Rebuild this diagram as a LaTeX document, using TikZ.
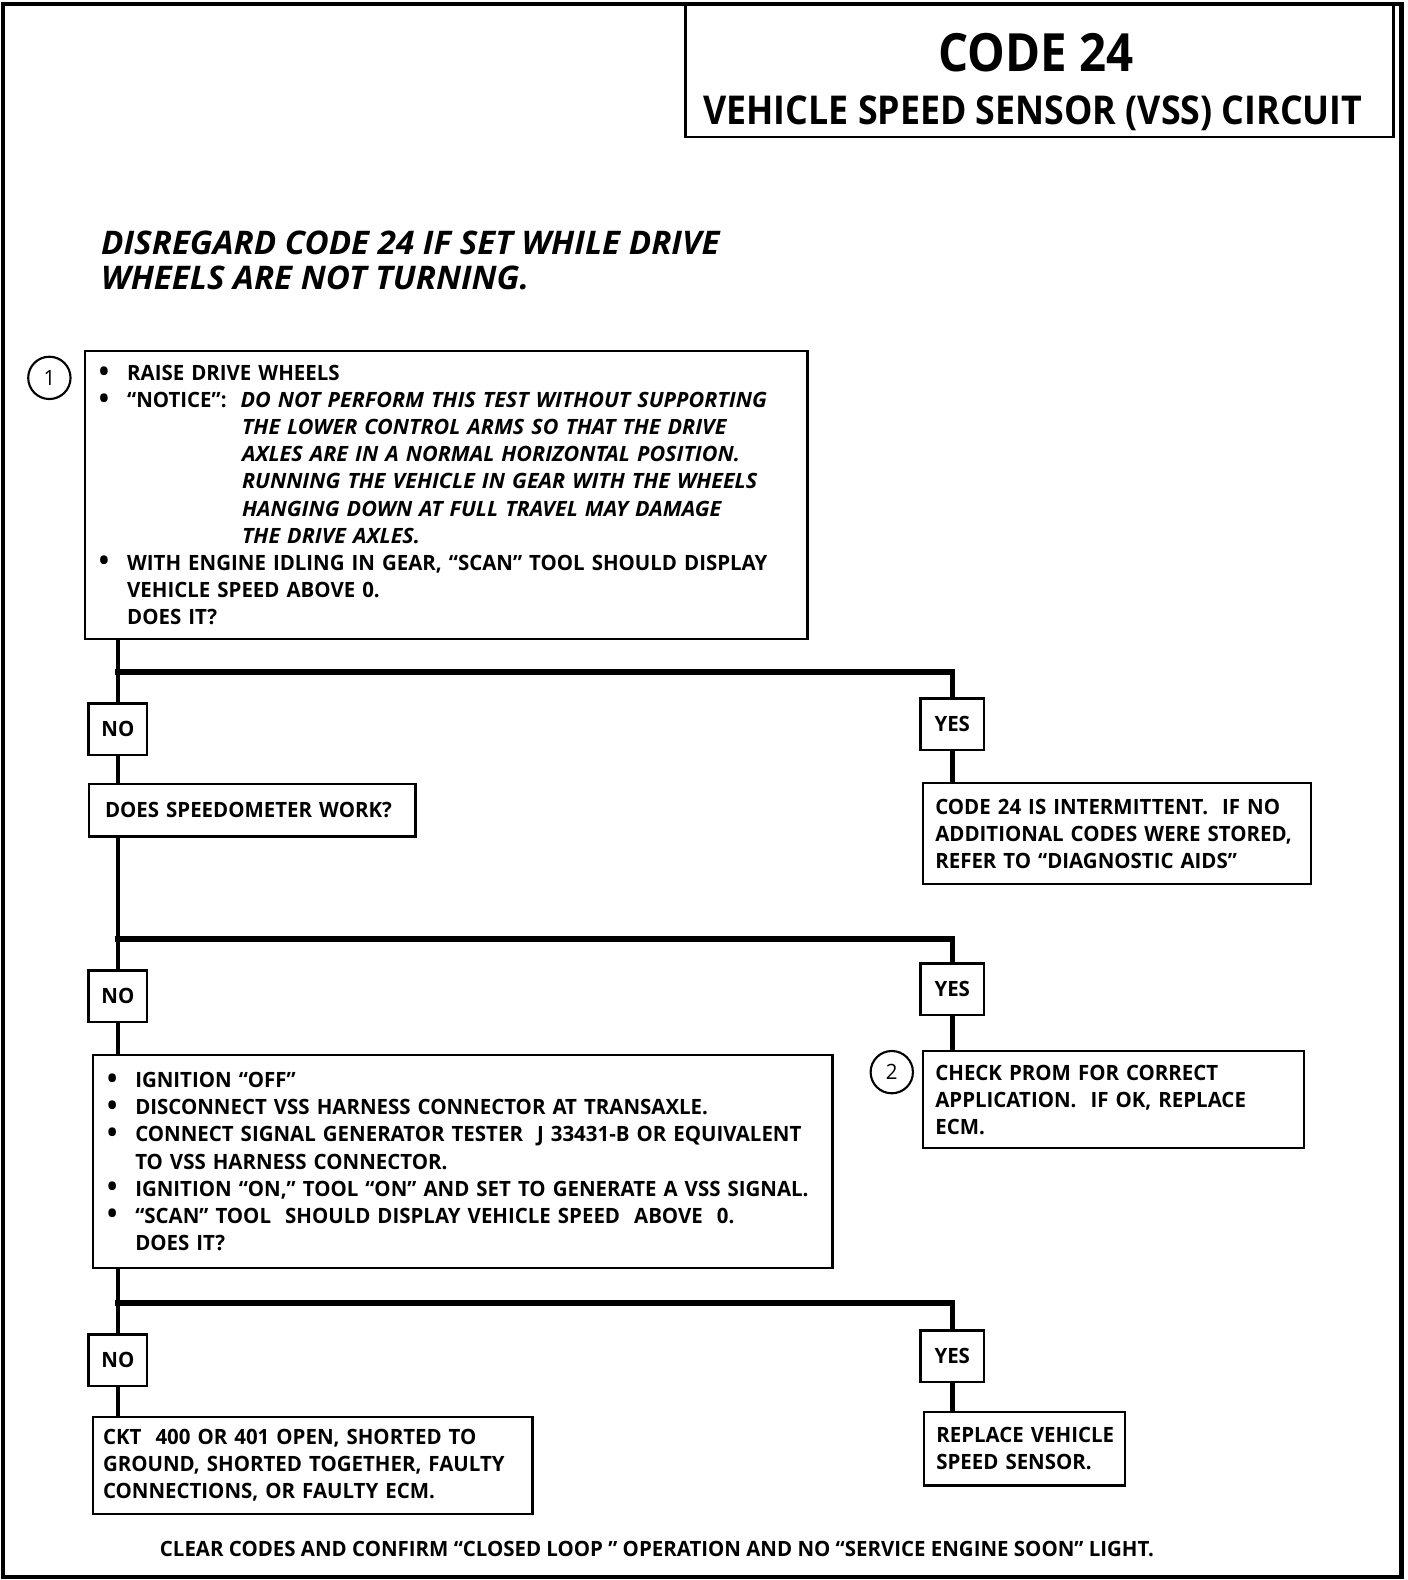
\documentclass[tikz,border=0pt]{standalone}
\usepackage{fontspec}
\setmainfont{Open Sans}[
  UprightFeatures={FakeStretch=0.97}, BoldFeatures={FakeStretch=0.97},
  ItalicFeatures={FakeStretch=1.02}, BoldItalicFeatures={FakeStretch=1.02}]
\newfontfamily\headfont{Open Sans}[FakeStretch=0.9]
\hyphenpenalty=10000
\newdimen\pxu \pxu=0.020158cm
\newcommand\itm{\makebox[25\pxu][l]{\hspace*{-3\pxu}\raisebox{-0.4pt}{\fontsize{16}{10}\selectfont\textbullet}}}
\newcommand\ind{\hspace*{25\pxu}}
\newcommand\notind{\hspace*{139\pxu}}

\tikzset{
  bodytext/.style={font=\fontsize{12}{15.4}\selectfont\bfseries},
  panel/.style n args={3}{draw, line width=1.4pt, anchor=north west, align=left,
    inner ysep=0pt, inner xsep={#3*\pxu}, text width={(#1-2*#3)*\pxu},
    minimum height={#2*\pxu}, bodytext},
  answer/.style={draw, line width=1.4pt, anchor=north, inner sep=0pt,
    minimum width={#1*\pxu}, minimum height={51*\pxu}, bodytext},
  trunk/.style={line width=3.6pt, line cap=rect},
  stem/.style={line width=2.6pt},
  stepnum/.style={draw, circle, line width=1.2pt, minimum size={42*\pxu},
    inner sep=0pt, font=\fontsize{12}{14}\selectfont},
}

\begin{document}
\begin{tikzpicture}[x=0.020158cm, y=-0.020158cm]
\useasboundingbox (0,0) rectangle (1397,1568);

% ---- marc i titol ----
\draw[line width=2.6pt] (3,4) rectangle (1391,1565);
\draw[line width=1.6pt] (680,4) rectangle (1383,136);
\node[font=\headfont\fontsize{30}{33}\selectfont\bfseries] (title) at (1028,52) {CODE 24};
\node[font=\headfont\fontsize{22.6}{26}\selectfont\bfseries] (subtitle) at (1025,112)
    {VEHICLE SPEED SENSOR (VSS) CIRCUIT};
\node[anchor=north west, align=left, inner sep=0pt,
    font=\fontsize{18.5}{20.1}\selectfont\bfseries\itshape] (warn) at (100,229)
    {DISREGARD CODE 24 IF SET WHILE DRIVE\\WHEELS ARE NOT TURNING.};

% ---- pas 1 ----
\node[panel={717}{286}{17}] (q1) at (83,347) {%
    \itm RAISE DRIVE WHEELS\\
    \itm ``NOTICE'':\ \ {\itshape DO NOT PERFORM THIS TEST WITHOUT SUPPORTING}\\
    \notind{\itshape THE LOWER CONTROL ARMS SO THAT THE DRIVE}\\
    \notind{\itshape AXLES ARE IN A NORMAL HORIZONTAL POSITION.}\\
    \notind{\itshape RUNNING THE VEHICLE IN GEAR WITH THE WHEELS}\\
    \notind{\itshape HANGING DOWN AT FULL TRAVEL MAY DAMAGE}\\
    \notind{\itshape THE DRIVE AXLES.}\\
    \itm WITH ENGINE IDLING IN GEAR, ``SCAN'' TOOL SHOULD DISPLAY\\
    \ind VEHICLE SPEED ABOVE 0.\\
    \ind DOES IT?};
\node[stepnum] (n1) at (49,375) {1};
\node[answer=58] (no1) at (117,697) {NO};
\node[answer=63] (yes1) at (945,692) {YES};
\coordinate (bar1) at (0,667);
\draw[stem] (q1.south -| no1.north) -- (no1.north);
\draw[trunk] (no1.north |- bar1) -- (yes1.north |- bar1);
\draw[stem] (yes1.north |- bar1) -- (yes1.north);

% ---- velocimetre ----
\node[panel={324}{52}{16}] (spd) at (87,777) {DOES SPEEDOMETER WORK?};
\node[panel={385}{100}{12}] (res1) at (915,776)
    {CODE 24 IS INTERMITTENT.\ \ IF NO\\ADDITIONAL CODES WERE STORED,\\REFER TO ``DIAGNOSTIC AIDS''};
\draw[stem] (no1.south) -- (no1.south |- spd.north);
\draw[stem] (yes1.south) -- (yes1.south |- res1.north);
\node[answer=58] (no2) at (117,962) {NO};
\node[answer=63] (yes2) at (945,955) {YES};
\coordinate (bar2) at (0,932);
\draw[stem] (spd.south -| no2.north) -- (no2.north);
\draw[trunk] (no2.north |- bar2) -- (yes2.north |- bar2);
\draw[stem] (yes2.north |- bar2) -- (yes2.north);

% ---- prova amb generador ----
\node[panel={734}{211}{17}] (q3) at (91,1046) {%
    \itm IGNITION ``OFF''\\
    \itm DISCONNECT VSS HARNESS CONNECTOR AT TRANSAXLE.\\
    \itm CONNECT SIGNAL GENERATOR TESTER\ \ J 33431-B OR EQUIVALENT\\
    \ind TO VSS HARNESS CONNECTOR.\\
    \itm IGNITION ``ON,'' TOOL ``ON'' AND SET TO GENERATE A VSS SIGNAL.\\
    \itm ``SCAN'' TOOL\ \ SHOULD DISPLAY VEHICLE SPEED\ \ ABOVE\ \ 0.\\
    \ind DOES IT?};
\node[panel={378}{96}{12}] (prom) at (915,1042)
    {CHECK PROM FOR CORRECT\\APPLICATION.\ \ IF OK, REPLACE\\ECM.};
\node[stepnum] (n2) at (885,1064) {2};
\draw[stem] (no2.south) -- (no2.south |- q3.north);
\draw[stem] (yes2.south) -- (yes2.south |- prom.north);
\node[answer=58] (no3) at (117,1323) {NO};
\node[answer=63] (yes3) at (945,1319) {YES};
\coordinate (bar3) at (0,1293);
\draw[stem] (q3.south -| no3.north) -- (no3.north);
\draw[trunk] (no3.north |- bar3) -- (yes3.north |- bar3);
\draw[stem] (yes3.north |- bar3) -- (yes3.north);

% ---- resultats ----
\node[panel={436}{96}{10}] (ckt) at (91,1405)
    {CKT\ \ 400 OR 401 OPEN, SHORTED TO\\GROUND, SHORTED TOGETHER, FAULTY\\CONNECTIONS, OR FAULTY ECM.};
\node[panel={199}{73}{12}] (vss) at (916,1400) {REPLACE~VEHICLE\\SPEED SENSOR.};
\draw[stem] (no3.south) -- (no3.south |- ckt.north);
\draw[stem] (yes3.south) -- (yes3.south |- vss.north);
\node[bodytext] (foot) at (652,1537)
    {CLEAR CODES AND CONFIRM ``CLOSED LOOP '' OPERATION AND NO ``SERVICE ENGINE SOON'' LIGHT.};

\end{tikzpicture}
\end{document}
